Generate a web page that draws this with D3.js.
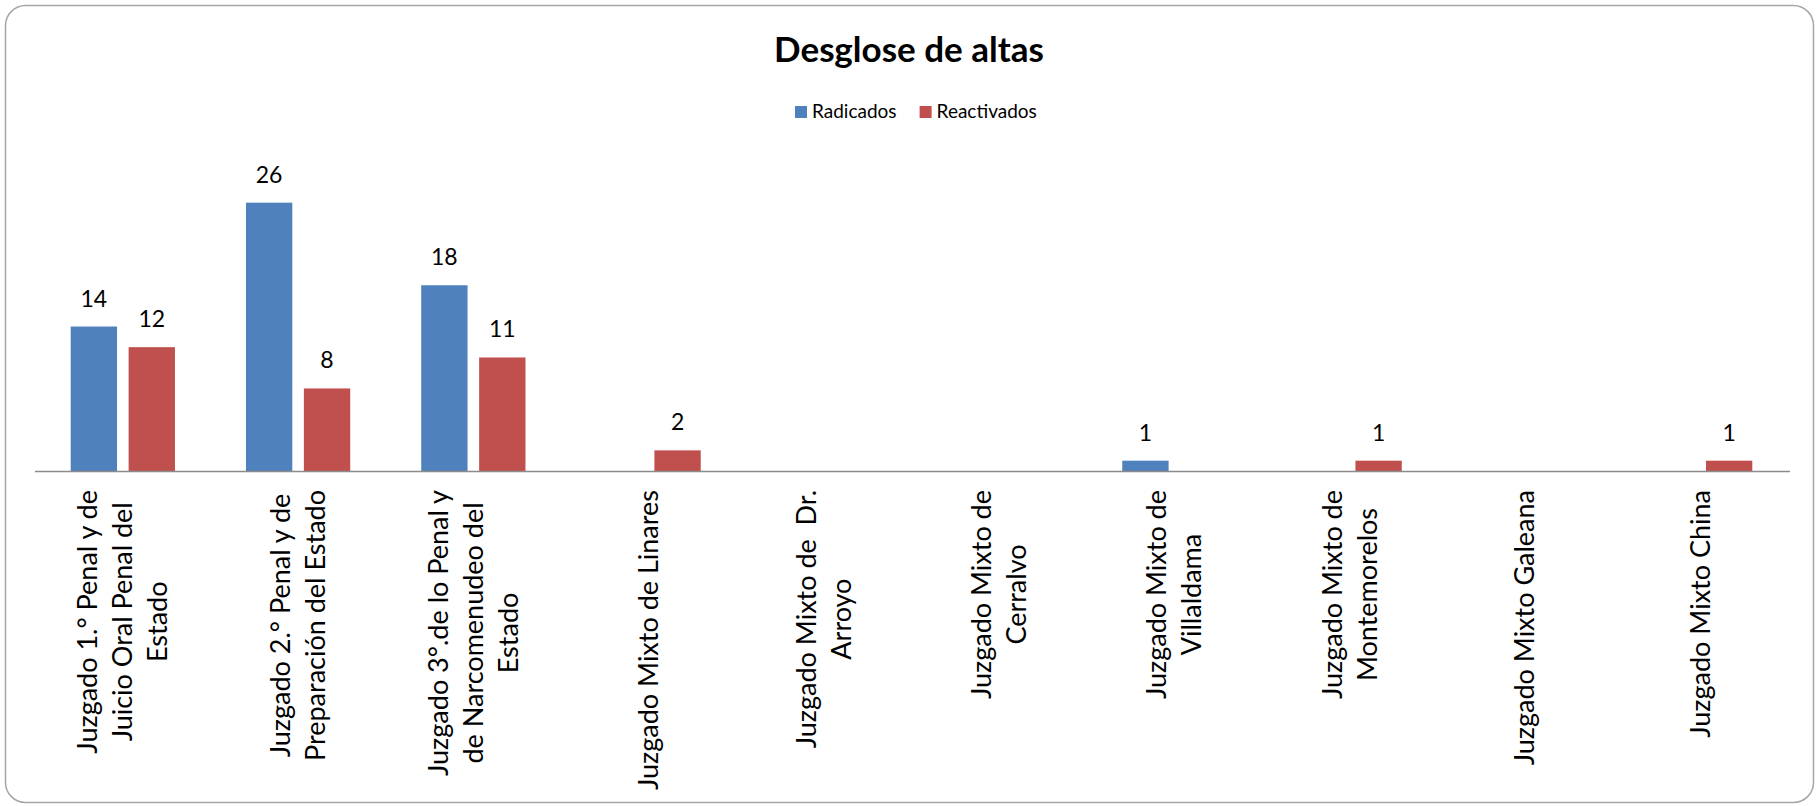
<!DOCTYPE html>
<html>

<head>
    <meta charset="UTF-8">
    <script src="https://d3js.org/d3.v7.min.js"></script>
    <style>
        body {
            margin: 0;
            background-color: #fff;
        }

        text {
            font-family: Lato, 'Liberation Sans', sans-serif;
            fill: #000;
        }
    </style>
</head>

<body>
    <svg id="chart" width="1816" height="806"></svg>
    <script>
        // data
        var categories = [
            "Juzgado 1.° Penal y de\nJuicio Oral Penal del\nEstado",
            "Juzgado 2.° Penal y de\nPreparación del Estado",
            "Juzgado 3°.de lo Penal y\nde Narcomenudeo del\nEstado",
            "Juzgado Mixto de Linares",
            "Juzgado Mixto de  Dr.\nArroyo",
            "Juzgado Mixto de\nCerralvo",
            "Juzgado Mixto de\nVillaldama",
            "Juzgado Mixto de\nMontemorelos",
            "Juzgado Mixto Galeana",
            "Juzgado Mixto China"
        ];
        var seriesNames = ["Radicados", "Reactivados"];
        var radicados = [14, 26, 18, 0, 0, 0, 1, 0, 0, 0];
        var reactivados = [12, 8, 11, 2, 0, 0, 0, 1, 0, 1];
        var colors = ["#4F81BD", "#C0504D"];

        var width = 1816;
        var height = 806;
        var baseY = 471;

        var svg = d3.select("#chart");

        // outer rounded frame
        svg.append("rect")
            .attr("x", 5.5)
            .attr("y", 5.5)
            .attr("width", 1808)
            .attr("height", 797)
            .attr("rx", 20)
            .attr("fill", "#fff")
            .attr("stroke", "#a6a6a6")
            .attr("stroke-width", 1.5);

        svg.append("text")
            .attr("x", 909)
            .attr("y", 62)
            .attr("text-anchor", "middle")
            .style("font-size", "35px")
            .style("font-weight", "bold")
            .text("Desglose de altas");

        var x0 = d3.scaleBand()
            .domain(d3.range(categories.length))
            .range([35.2, 1787.8]);

        var x1 = d3.scaleBand()
            .domain(seriesNames)
            .range([0, x0.bandwidth()])
            .paddingInner(0.2)
            .paddingOuter(0.613);

        var y = d3.scaleLinear()
            .domain([0, 30])
            .range([baseY, baseY - 30 * 10.32]);

        var rows = categories.map(function (c, i) {
            return { i: i, values: [radicados[i], reactivados[i]] };
        });

        var groups = svg.append("g").selectAll("g")
            .data(rows)
            .enter()
            .append("g")
            .attr("transform", function (d) { return "translate(" + x0(d.i) + ",0)"; });

        var cells = groups.selectAll("g")
            .data(function (d) {
                return d.values.map(function (v, k) { return { name: seriesNames[k], k: k, value: v }; });
            })
            .enter()
            .filter(function (d) { return d.value > 0; })
            .append("g");

        cells.append("rect")
            .attr("x", function (d) { return x1(d.name); })
            .attr("y", function (d) { return y(d.value); })
            .attr("width", x1.bandwidth())
            .attr("height", function (d) { return y(0) - y(d.value); })
            .attr("fill", function (d) { return colors[d.k]; });

        cells.append("text")
            .attr("x", function (d) { return x1(d.name) + x1.bandwidth() / 2; })
            .attr("y", function (d) { return y(d.value) - 20; })
            .attr("text-anchor", "middle")
            .style("font-size", "23px")
            .text(function (d) { return d.value; });

        // category axis line
        svg.append("line")
            .attr("x1", 35)
            .attr("x2", 1790)
            .attr("y1", baseY + 0.5)
            .attr("y2", baseY + 0.5)
            .attr("stroke", "#8c8c8c")
            .attr("stroke-width", 1.5);

        // rotated, multi-line category labels
        var lineH = 35;
        var labels = svg.append("g").selectAll("g")
            .data(categories)
            .enter()
            .append("g")
            .attr("transform", function (d, i) {
                return "translate(" + (x0(i) + x0.bandwidth() / 2) + "," + 490 + ") rotate(-90)";
            });

        labels.each(function (d) {
            var g = d3.select(this);
            var lines = d.split("\n");
            var texts = lines.map(function (line, j) {
                return g.append("text")
                    .attr("y", (j - (lines.length - 1) / 2) * lineH)
                    .attr("dy", "0.35em")
                    .attr("text-anchor", "middle")
                    .style("font-size", "27px")
                    .style("white-space", "pre")
                    .text(line);
            });
            var maxLen = d3.max(texts, function (t) { return t.node().getComputedTextLength(); });
            texts.forEach(function (t) { t.attr("x", -maxLen / 2); });
        });

        // legend
        var legend = svg.append("g");
        var legendX = [795, 919.6];
        seriesNames.forEach(function (name, k) {
            legend.append("rect")
                .attr("x", legendX[k])
                .attr("y", 106)
                .attr("width", 12)
                .attr("height", 12)
                .attr("fill", colors[k]);
            legend.append("text")
                .attr("x", legendX[k] + 17)
                .attr("y", 118)
                .style("font-size", "19px")
                .text(name);
        });
    </script>
</body>

</html>
